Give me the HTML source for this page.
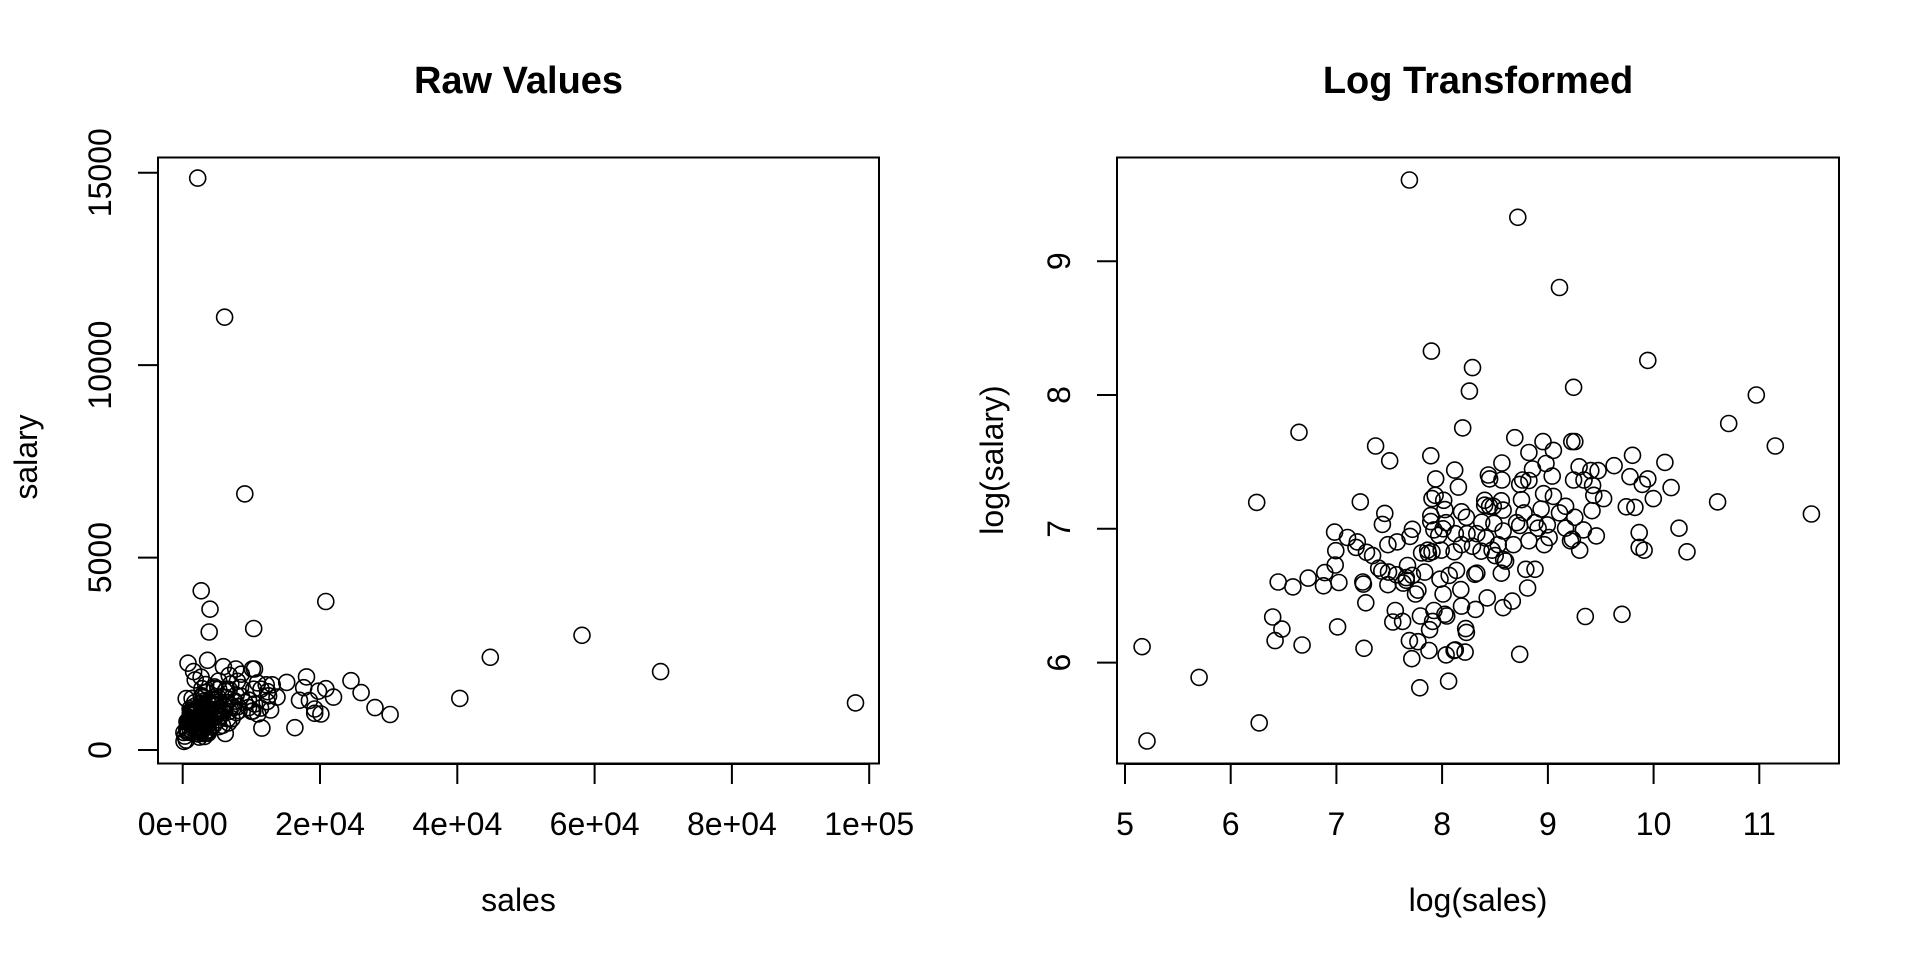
<!DOCTYPE html>
<html><head><meta charset="utf-8"><style>
html,body{margin:0;padding:0;background:#fff;}
svg{display:block;font-family:"Liberation Sans",Arial,sans-serif;}
</style></head><body>
<svg id="s" width="1920" height="960" viewBox="0 0 1920 960" xmlns="http://www.w3.org/2000/svg">
<rect width="1920" height="960" fill="#fff"/>
<g fill="none" stroke="#000" stroke-width="2">
<rect x="158" y="157.5" width="721" height="606"/>
<rect x="1117" y="157.5" width="722" height="606"/>
<path d="M182.7 764V784M320 764V784M457.3 764V784M594.6 764V784M731.9 764V784M869.2 764V784M182.7 764H869.2"/>
<path d="M158 750H138M158 557.6H138M158 365.1H138M158 172.7H138M158 172.7V750"/>
<path d="M1125 764V784M1230.7 764V784M1336.4 764V784M1442.1 764V784M1547.9 764V784M1653.6 764V784M1759.3 764V784M1125 764H1759.3"/>
<path d="M1117 662.6H1097M1117 528.8H1097M1117 395H1097M1117 261.2H1097M1117 261.2V662.6"/>
</g>
<g font-size="32" text-anchor="middle" fill="#000">
<text x="518.5" y="93" font-size="38" font-weight="bold">Raw Values</text>
<text x="1478" y="93" font-size="38" font-weight="bold">Log Transformed</text>
<text x="182.7" y="835">0e+00</text><text x="320" y="835">2e+04</text><text x="457.3" y="835">4e+04</text><text x="594.6" y="835">6e+04</text><text x="731.9" y="835">8e+04</text><text x="869.2" y="835">1e+05</text>
<text x="518.5" y="911">sales</text>
<text transform="translate(37,457) rotate(-90)">salary</text>
<text transform="translate(111,750) rotate(-90)">0</text>
<text transform="translate(111,557.6) rotate(-90)">5000</text>
<text transform="translate(111,365.1) rotate(-90)">10000</text>
<text transform="translate(111,172.7) rotate(-90)">15000</text>
<text x="1125" y="835">5</text><text x="1230.7" y="835">6</text><text x="1336.4" y="835">7</text><text x="1442.1" y="835">8</text><text x="1547.9" y="835">9</text><text x="1653.6" y="835">10</text><text x="1759.3" y="835">11</text>
<text x="1478" y="911">log(sales)</text>
<text transform="translate(1003,460) rotate(-90)">log(salary)</text>
<text transform="translate(1070,662.6) rotate(-90)">6</text>
<text transform="translate(1070,528.8) rotate(-90)">7</text>
<text transform="translate(1070,395) rotate(-90)">8</text>
<text transform="translate(1070,261.2) rotate(-90)">9</text>
</g>
<g id="pts" fill="none" stroke="#000" stroke-width="1.6"></g>
</svg>
<script>
var P=[[735,145],[912,213],[980,341],[771,457],[838,487],[1124,474],[833,530],[1003,523],[1301,537],[1256,589],[822,597],[1332,630],[555,605],[486,733],[1391,754],[299,996],[392,1052],[307,1168],[490,1135],[752,1071],[915,1010],[1082,937],[1022,941],[1238,732],[1188,823],[1175,780],[1133,726],[1162,706],[1152,660],[1124,690],[1095,686],[1099,647],[1103,742],[1089,741],[1110,788],[1110,815],[1118,820],[1069,666],[1052,726],[1043,675],[1031,675],[1034,702],[1036,720],[1033,748],[1040,794],[1019,783],[1013,820],[998,803],[990,780],[980,752],[1012,668],[1020,692],[1003,692],[1005,622],[1000,622],[970,638],[953,622],[930,642],[968,685],[970,722],[954,717],[958,662],[936,672],[930,693],[920,692],[915,700],[918,728],[922,752],[930,803],[940,855],[928,889],[907,615],[910,770],[915,775],[960,774],[963,797],[940,770],[886,661],[886,692],[885,730],[888,747],[888,785],[889,837],[885,862],[888,925],[903,913],[873,771],[864,683],[866,690],[858,729],[853,769],[860,798],[852,822],[845,862],[862,907],[843,928],[858,738],[866,740],[872,740],[829,790],[828,760],[820,750],[809,674],[815,705],[791,729],[793,746],[790,781],[778,690],[777,720],[772,726],[770,648],[770,757],[770,768],[775,783],[765,820],[766,826],[772,823],[783,793],[787,820],[808,823],[812,857],[800,866],[819,892],[838,813],[842,864],[820,922],[827,963],[828,970],[790,900],[793,937],[796,940],[773,950],[775,930],[768,965],[767,1003],[749,987],[739,1018],[735,985],[724,950],[712,930],[708,951],[714,865],[725,880],[730,875],[740,866],[749,893],[740,782],[736,795],[732,848],[715,805],[700,883],[701,860],[691,773],[695,753],[690,858],[685,853],[680,630],[703,657],[675,830],[665,824],[660,882],[659,878],[664,916],[661,999],[655,732],[650,805],[648,815],[634,797],[613,787],[615,821],[614,847],[620,879],[618,960],[597,861],[595,885],[570,871],[545,887],[521,878],[527,964],[512,942],[516,985],[560,993],[808,1003],[810,1002],[795,1011],[826,1006],[799,1059],[785,873],[753,940],[760,860],[755,825],[745,900],[730,870],[700,810],[820,810],[880,810],[905,810],[945,780],[875,830],[950,745],[990,740],[1005,760],[955,810],[925,855],[892,840],[870,820],[845,790],[810,790],[795,770],[1115,700],[1001,800]];
var g=document.getElementById('pts'),h='';
P.forEach(function(p){
 var rx=1117+(p[0]-258)*722/1178, ry=157+(p[1]-103)*607/1107;
 h+='<circle cx="'+rx.toFixed(1)+'" cy="'+ry.toFixed(1)+'" r="8"/>';
 var lx=5+(p[0]-271)/172.5, ly=9-(p[1]-293)/244;
 var X=182.7+Math.exp(lx)/20000*137.3, Y=750-Math.exp(ly)/5000*192.4;
 h+='<circle cx="'+X.toFixed(1)+'" cy="'+Y.toFixed(1)+'" r="8"/>';
});
g.innerHTML=h;
</script>
</body></html>
